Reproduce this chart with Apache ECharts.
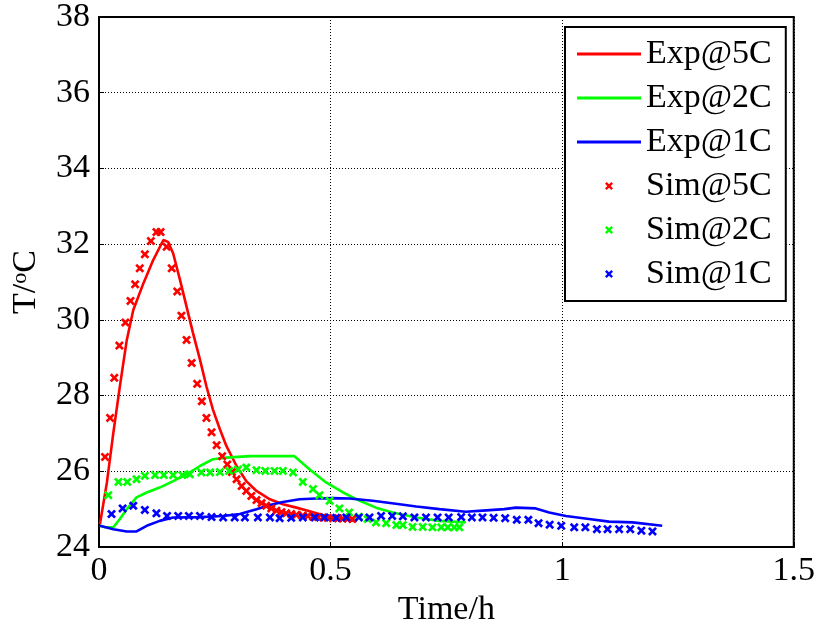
<!DOCTYPE html>
<html>
<head>
<meta charset="utf-8">
<script src="https://cdn.jsdelivr.net/npm/echarts@6/dist/echarts.min.js"></script>
<style>
  html, body { margin: 0; padding: 0; background: #fff; }
  #chart { width: 818px; height: 632px; }
</style>
</head>
<body>
<div id="chart"></div>
<script>
// Measured temperatures (solid lines)
var expTime5 = [0.002,0.017,0.031,0.045,0.060,0.074,0.096,0.117,0.139,0.149,0.160,0.175,0.189,0.203,0.218,0.232,0.246,0.261,0.275,0.297,0.318,0.340,0.369,0.397,0.426,0.451,0.490,0.552];
var expTemp5 = [24.6,25.7,27.02,28.24,29.47,30.26,30.97,31.58,32.11,32.06,31.76,31.05,30.35,29.65,28.95,28.24,27.63,27.11,26.67,26.14,25.74,25.48,25.26,25.13,25.04,24.96,24.82,24.69];

var expTime2 = [0.002,0.013,0.031,0.045,0.060,0.081,0.103,0.131,0.160,0.189,0.218,0.246,0.275,0.325,0.422,0.455,0.491,0.527,0.563,0.598,0.634,0.685,0.735,0.792];
var expTemp2 = [24.56,24.52,24.52,24.74,25.0,25.31,25.44,25.57,25.74,25.92,26.14,26.32,26.36,26.40,26.40,26.05,25.70,25.44,25.22,25.04,24.91,24.78,24.69,24.65];

var expTime1 = [0.002,0.031,0.060,0.081,0.103,0.131,0.160,0.218,0.268,0.304,0.340,0.369,0.397,0.433,0.469,0.505,0.541,0.591,0.649,0.685,0.735,0.792,0.828,0.875,0.900,0.943,0.972,1.008,1.058,1.101,1.152,1.216];
var expTemp1 = [24.56,24.47,24.41,24.41,24.56,24.69,24.78,24.79,24.82,24.87,25.0,25.11,25.19,25.26,25.28,25.29,25.28,25.22,25.13,25.07,25.0,24.93,24.96,25.0,25.04,25.02,24.91,24.82,24.74,24.67,24.65,24.56];

// Simulated temperatures (cross markers)
var simTime5 = [0.013,0.024,0.033,0.044,0.057,0.068,0.078,0.088,0.099,0.112,0.124,0.133,0.146,0.157,0.169,0.178,0.189,0.200,0.212,0.222,0.232,0.243,0.254,0.266,0.277,0.287,0.297,0.308,0.318,0.329,0.340,0.351,0.361,0.372,0.383,0.394,0.404,0.415,0.426,0.440,0.451,0.462,0.473,0.484,0.494,0.505,0.516,0.526,0.537,0.547];
var simTemp5 = [26.38,27.41,28.47,29.32,29.93,30.50,30.94,31.36,31.73,32.08,32.32,32.32,31.93,31.36,30.75,30.11,29.47,28.86,28.31,27.85,27.41,27.03,26.69,26.40,26.18,25.98,25.79,25.61,25.48,25.35,25.24,25.16,25.09,25.02,24.96,24.92,24.89,24.87,24.85,24.83,24.82,24.80,24.79,24.78,24.77,24.76,24.76,24.75,24.75,24.74];

var simTime2 = [0.020,0.042,0.061,0.081,0.099,0.121,0.140,0.160,0.180,0.196,0.221,0.240,0.261,0.281,0.300,0.318,0.340,0.359,0.379,0.397,0.419,0.440,0.462,0.476,0.498,0.519,0.540,0.561,0.580,0.598,0.620,0.642,0.656,0.677,0.699,0.720,0.739,0.753,0.767,0.778];
var simTemp2 = [25.37,25.72,25.72,25.79,25.88,25.90,25.90,25.90,25.90,25.92,25.97,25.97,25.98,26.01,26.05,26.10,26.03,26.01,26.01,26.01,25.97,25.72,25.53,25.37,25.22,25.02,24.91,24.80,24.74,24.65,24.63,24.58,24.58,24.53,24.53,24.52,24.52,24.52,24.52,24.52];

var simTime1 = [0.027,0.051,0.074,0.099,0.124,0.147,0.171,0.194,0.218,0.243,0.268,0.293,0.315,0.343,0.369,0.390,0.415,0.440,0.466,0.487,0.512,0.534,0.561,0.584,0.609,0.633,0.656,0.681,0.706,0.731,0.755,0.782,0.805,0.828,0.852,0.877,0.902,0.927,0.949,0.973,0.998,1.026,1.050,1.075,1.098,1.123,1.147,1.171,1.195];
var simTemp1 = [24.87,25.02,25.09,24.98,24.89,24.82,24.82,24.82,24.82,24.79,24.78,24.78,24.78,24.78,24.78,24.76,24.77,24.78,24.78,24.78,24.77,24.78,24.78,24.78,24.82,24.82,24.81,24.78,24.78,24.78,24.78,24.79,24.78,24.78,24.77,24.76,24.72,24.72,24.63,24.59,24.56,24.52,24.52,24.47,24.47,24.47,24.47,24.43,24.41];

var seriesNames = ['Exp@5C', 'Exp@2C', 'Exp@1C', 'Sim@5C', 'Sim@2C', 'Sim@1C'];
var xTicks = { min: 0, max: 1.5, step: 0.5 };
var yTicks = { min: 24, max: 38, step: 2 };

function pairs(xs, ys) {
  return xs.map(function (x, i) { return [x, ys[i]]; });
}

var FONT = '"Liberation Serif", "Times New Roman", serif';
var CROSS = 'path://M0,2.1L2.1,0L5,2.9L7.9,0L10,2.1L7.1,5L10,7.9L7.9,10L5,7.1L2.1,10L0,7.9L2.9,5Z';
var LEGEND_LINE = 'path://M0,0H64V3H0Z';

function lineSeries(name, xs, ys, color) {
  return {
    name: name, type: 'line', data: pairs(xs, ys),
    symbol: 'none', showSymbol: false, smooth: false, z: 2,
    lineStyle: { color: color, width: 2.6 },
    itemStyle: { color: color }
  };
}
function simSeries(name, xs, ys, color) {
  return {
    name: name, type: 'scatter', data: pairs(xs, ys),
    symbol: CROSS, symbolSize: 9, z: 3,
    itemStyle: { color: color, opacity: 1 }
  };
}

var chart = echarts.init(document.getElementById('chart'), null, { renderer: 'canvas' });
chart.setOption({
  animation: false,
  backgroundColor: '#ffffff',
  grid: {
    left: 99, top: 16, right: 23, bottom: 84,
    show: true, borderColor: '#000', borderWidth: 2, backgroundColor: 'transparent'
  },
  legend: {
    orient: 'vertical',
    left: 565, top: 27,
    padding: [10, 14, 10, 12],
    itemGap: 10,
    itemWidth: 64,
    itemHeight: 8,
    borderColor: '#000', borderWidth: 2,
    backgroundColor: '#fff',
    data: [
      { name: seriesNames[0], icon: LEGEND_LINE },
      { name: seriesNames[1], icon: LEGEND_LINE },
      { name: seriesNames[2], icon: LEGEND_LINE },
      { name: seriesNames[3] },
      { name: seriesNames[4] },
      { name: seriesNames[5] }
    ],
    textStyle: { fontFamily: FONT, fontSize: 34, color: '#000', lineHeight: 34 }
  },
  xAxis: {
    type: 'value', min: xTicks.min, max: xTicks.max, interval: xTicks.step,
    name: 'Time/h', nameLocation: 'middle', nameGap: 46,
    nameTextStyle: { fontFamily: FONT, fontSize: 34, color: '#000' },
    axisLine: { show: true, onZero: false, lineStyle: { color: '#000', width: 2 } },
    axisTick: { show: true, inside: true, length: 5, lineStyle: { color: '#000' } },
    axisLabel: { fontFamily: FONT, fontSize: 34, color: '#000', margin: 7 },
    splitLine: { show: true, lineStyle: { color: '#000', width: 1, type: [1, 2] } }
  },
  yAxis: {
    type: 'value', min: yTicks.min, max: yTicks.max, interval: yTicks.step,
    name: 'T/{sup|o}C', nameLocation: 'middle', nameGap: 56, nameRotate: 90,
    nameTextStyle: {
      fontFamily: FONT, fontSize: 34, color: '#000',
      rich: { sup: { fontFamily: FONT, fontSize: 22, color: '#000', verticalAlign: 'top', padding: [0, 0, 12, 0] } }
    },
    axisLine: { show: true, lineStyle: { color: '#000', width: 2 } },
    axisTick: { show: true, inside: true, length: 5, lineStyle: { color: '#000' } },
    axisLabel: { fontFamily: FONT, fontSize: 34, color: '#000', margin: 9 },
    splitLine: { show: true, lineStyle: { color: '#000', width: 1, type: [1, 2] } }
  },
  series: [
    lineSeries(seriesNames[0], expTime5, expTemp5, '#ff0000'),
    lineSeries(seriesNames[1], expTime2, expTemp2, '#00ff00'),
    lineSeries(seriesNames[2], expTime1, expTemp1, '#0000ff'),
    simSeries(seriesNames[3], simTime5, simTemp5, '#ff0000'),
    simSeries(seriesNames[4], simTime2, simTemp2, '#00ff00'),
    simSeries(seriesNames[5], simTime1, simTemp1, '#0000ff')
  ]
});
</script>
</body>
</html>
